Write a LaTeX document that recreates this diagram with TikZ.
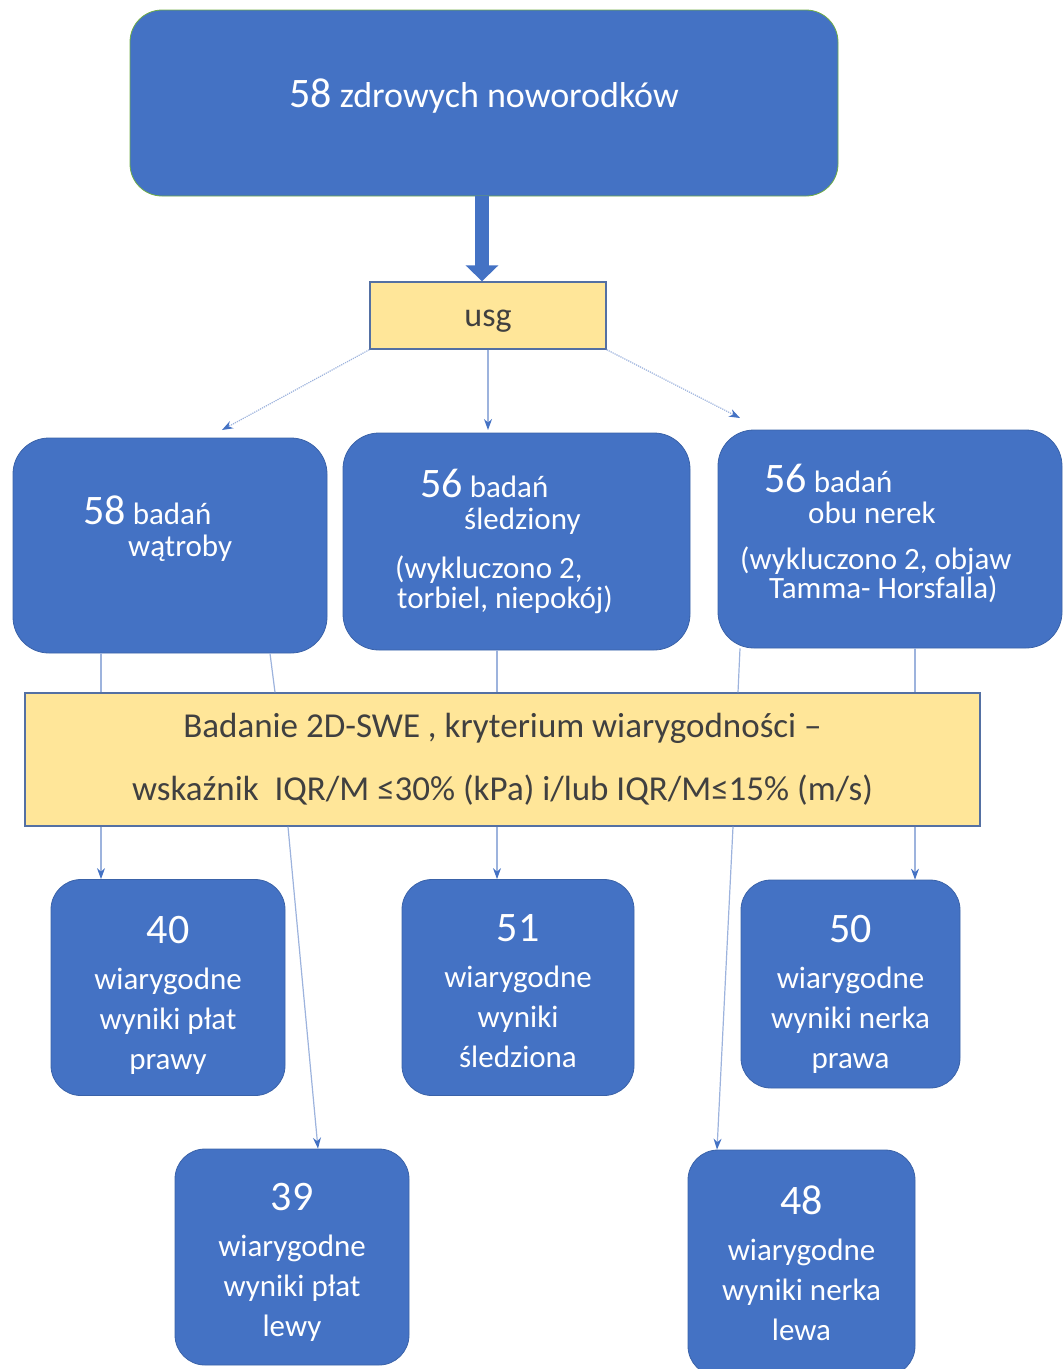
\documentclass[tikz,border=0pt]{standalone}
\usepackage{fontspec}
\setmainfont{Carlito}
\usetikzlibrary{arrows.meta}
\definecolor{boxblue}{HTML}{4472C4}
\definecolor{boxedge}{HTML}{3A62A8}
\definecolor{leafgreen}{HTML}{70AD47}
\definecolor{critfill}{HTML}{FFE699}
\definecolor{critedge}{HTML}{5470A3}
\definecolor{linkc}{HTML}{9DB3DD}
\definecolor{inkgray}{HTML}{404040}
\newcommand\numfont{\fontsize{42}{44}\selectfont}
\newcommand\boxfont{\fontsize{31}{40}\selectfont}
\newcommand\headfont{\fontsize{36}{42}\selectfont}
\newcommand\topstrut[1]{\rule{0pt}{#1}}
\tikzset{
  bluebox/.style={rectangle,fill=boxblue,draw=boxedge,line width=0.8pt,text=white,align=center,inner sep=0pt},
  yelbox/.style={rectangle,fill=critfill,draw=critedge,line width=1.4pt,text=inkgray,align=center,inner sep=0pt},
  lbl/.style={text=white,inner sep=0pt,font=\boxfont},
  link/.style={linkc,line width=1.2pt},
  linkarr/.style={link,-{Stealth[length=11pt,width=8pt,color=boxblue]}},
  dotarr/.style={linkarr,densely dotted},
  bigarr/.style={boxblue,line width=14pt,-{Triangle[length=16pt,width=32pt]}},
}
\begin{document}
\begin{tikzpicture}[x=1pt,y=-1pt]
  \useasboundingbox (0,0) rectangle (1063,1369);
  % ===================== start =====================
  \node[bluebox,draw=leafgreen,rounded corners=32pt,minimum width=708pt,minimum height=186pt] (start) at (484,103) {};
  \node[lbl,anchor=base west,font=\headfont] (startTxt) at (289,107) {{\numfont 58} zdrowych noworodków};
  \node[yelbox,minimum width=236pt,minimum height=67pt,font=\fontsize{34}{40}\selectfont] (usg) at (488,315.5) {\topstrut{28pt}usg};
  \draw[bigarr] (start.south -| 482,0) -- (usg.north -| 482,0);
  % ===================== organs =====================
  \node[bluebox,rounded corners=36pt,minimum width=314pt,minimum height=215pt] (liver) at (170,545.5) {};
  \node[lbl,anchor=base west] (liverA) at (83,524) {{\numfont 58} badań};
  \node[lbl,anchor=base west] (liverB) at (128,556) {wątroby};
  \node[bluebox,rounded corners=36pt,minimum width=347pt,minimum height=217pt] (spleen) at (516.5,541.5) {};
  \node[lbl,anchor=base west] (spleenA) at (420,497) {{\numfont 56} badań};
  \node[lbl,anchor=base west] (spleenB) at (464,529) {śledziony};
  \node[lbl,anchor=base west] (spleenC) at (395,578) {(wykluczono 2,};
  \node[lbl,anchor=base west] (spleenD) at (397,608) {torbiel, niepokój)};
  \node[bluebox,rounded corners=36pt,minimum width=344pt,minimum height=218pt] (kidney) at (890,539) {};
  \node[lbl,anchor=base west] (kidneyA) at (764,492) {{\numfont 56} badań};
  \node[lbl,anchor=base west] (kidneyB) at (808,523) {obu nerek};
  \node[lbl,anchor=base west] (kidneyC) at (740,569) {(wykluczono 2, objaw};
  \node[lbl,anchor=base west] (kidneyD) at (769,598) {Tamma- Horsfalla)};
  \coordinate (toLiver) at (222,430);
  \coordinate (toKidney) at (740,418);
  \draw[dotarr] (usg.south west) -- (toLiver);
  \draw[linkarr] (usg.south) -- (usg.south |- toLiver);
  \draw[dotarr] (usg.south east) -- (toKidney);
  % ===================== criterion =====================
  \node[yelbox,minimum width=955pt,minimum height=133pt,font=\fontsize{35}{63}\selectfont] (crit) at (502.5,759.5)
    {Badanie 2D-SWE , kryterium wiarygodności –\\wskaźnik\ \ IQR/M ≤30\% (kPa) i/lub IQR/M≤15\% (m/s)};
  \foreach \a/\b/\c in {liver/101/101, liver/270/275, spleen/497/497, kidney/740/738, kidney/915/915}
    \draw[link] (\a.south -| \b,0) -- (crit.north -| \c,0);
  % ===================== results =====================
  \node[bluebox,rounded corners=30pt,minimum width=234pt,minimum height=216pt,font=\boxfont] (b40) at (168,987.5)
    {{\numfont\topstrut{43pt}40}\\[6pt]wiarygodne\\wyniki płat\\prawy};
  \node[bluebox,rounded corners=30pt,minimum width=232pt,minimum height=216pt,font=\boxfont] (b51) at (518,987.5)
    {{\numfont\topstrut{35pt}51}\\[6pt]wiarygodne\\wyniki\\śledziona};
  \node[bluebox,rounded corners=30pt,minimum width=219pt,minimum height=208pt,font=\boxfont] (b50) at (850.5,984)
    {{\numfont\topstrut{48pt}50}\\[6pt]wiarygodne\\wyniki nerka\\prawa};
  \node[bluebox,rounded corners=30pt,minimum width=234pt,minimum height=216pt,font=\boxfont] (b39) at (292,1257)
    {{\numfont\topstrut{38pt}39}\\[6pt]wiarygodne\\wyniki płat\\lewy};
  \node[bluebox,rounded corners=30pt,minimum width=227pt,minimum height=226pt,font=\boxfont] (b48) at (801.5,1263)
    {{\numfont\topstrut{30pt}48}\\[6pt]wiarygodne\\wyniki nerka\\lewa};
  \foreach \a/\b/\c in {b40/101/101, b39/288/318, b51/497/497, b48/733/717, b50/915/915}
    \draw[linkarr] (crit.south -| \b,0) -- (\a.north -| \c,0);
\end{tikzpicture}
\end{document}
